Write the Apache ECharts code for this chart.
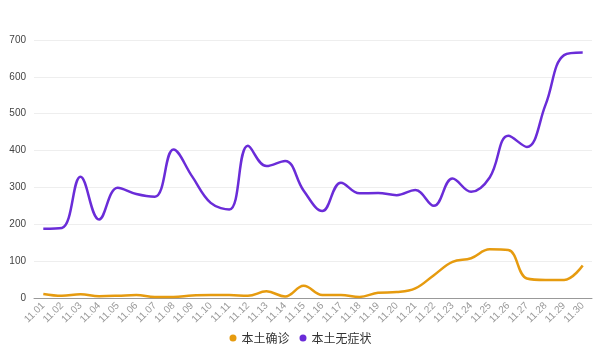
<!DOCTYPE html>
<html>
<head>
<meta charset="utf-8">
<script src="https://cdn.jsdelivr.net/npm/echarts@6/dist/echarts.min.js"></script>
<style>
  html,body{margin:0;padding:0;background:#fff;}
  #main{width:601px;height:351px;}
</style>
</head>
<body>
<div id="main"></div>
<script>
  // 日期
  var days = ['11.01','11.02','11.03','11.04','11.05','11.06','11.07','11.08','11.09','11.10',
              '11.11','11.12','11.13','11.14','11.15','11.16','11.17','11.18','11.19','11.20',
              '11.21','11.22','11.23','11.24','11.25','11.26','11.27','11.28','11.29','11.30'];
  // 本土确诊
  var confirmed = [11,6,10,5,6,8,3,3,7,8,
                   8,6,18,4,33,8,8,3,14,16,
                   26,62,98,108,132,130,53,49,49,88];
  // 本土无症状
  var asymptomatic = [188,190,329,213,299,282,275,403,330,258,
                      240,413,358,372,291,236,313,284,285,279,
                      293,250,324,288,327,440,410,524,659,666];
  var yTicks = {min:0, max:700, interval:100};

  var myChart = echarts.init(document.getElementById('main'));
  myChart.setOption({
    animation:false,
    color:['#e69b0f','#6a2cd8'],
    grid:{left:34,right:9,top:40,bottom:53},
    legend:{
      bottom:2,
      left:'center',
      icon:'circle',
      itemWidth:7,
      itemHeight:7,
      itemGap:10,
      textStyle:{fontSize:12,color:'#333',fontFamily:'Noto Sans CJK SC'},
      data:['本土确诊','本土无症状']
    },
    xAxis:{
      type:'category',
      data:days,
      boundaryGap:true,
      axisTick:{show:false},
      axisLine:{lineStyle:{color:'#999'}},
      axisLabel:{
        interval:0,
        rotate:45,
        color:'#999',
        fontSize:10,
        margin:6
      }
    },
    yAxis:{
      type:'value',
      min:yTicks.min,
      max:yTicks.max,
      interval:yTicks.interval,
      axisLine:{show:false},
      axisTick:{show:false},
      splitLine:{lineStyle:{color:'#eee'}},
      axisLabel:{color:'#444',fontSize:10,margin:8}
    },
    series:[
      {
        name:'本土确诊',
        type:'line',
        smooth:0.4,
        symbol:'none',
        lineStyle:{width:2.5},
        data:confirmed
      },
      {
        name:'本土无症状',
        type:'line',
        smooth:0.4,
        symbol:'none',
        lineStyle:{width:2.5},
        data:asymptomatic
      }
    ]
  });
</script>
</body>
</html>
